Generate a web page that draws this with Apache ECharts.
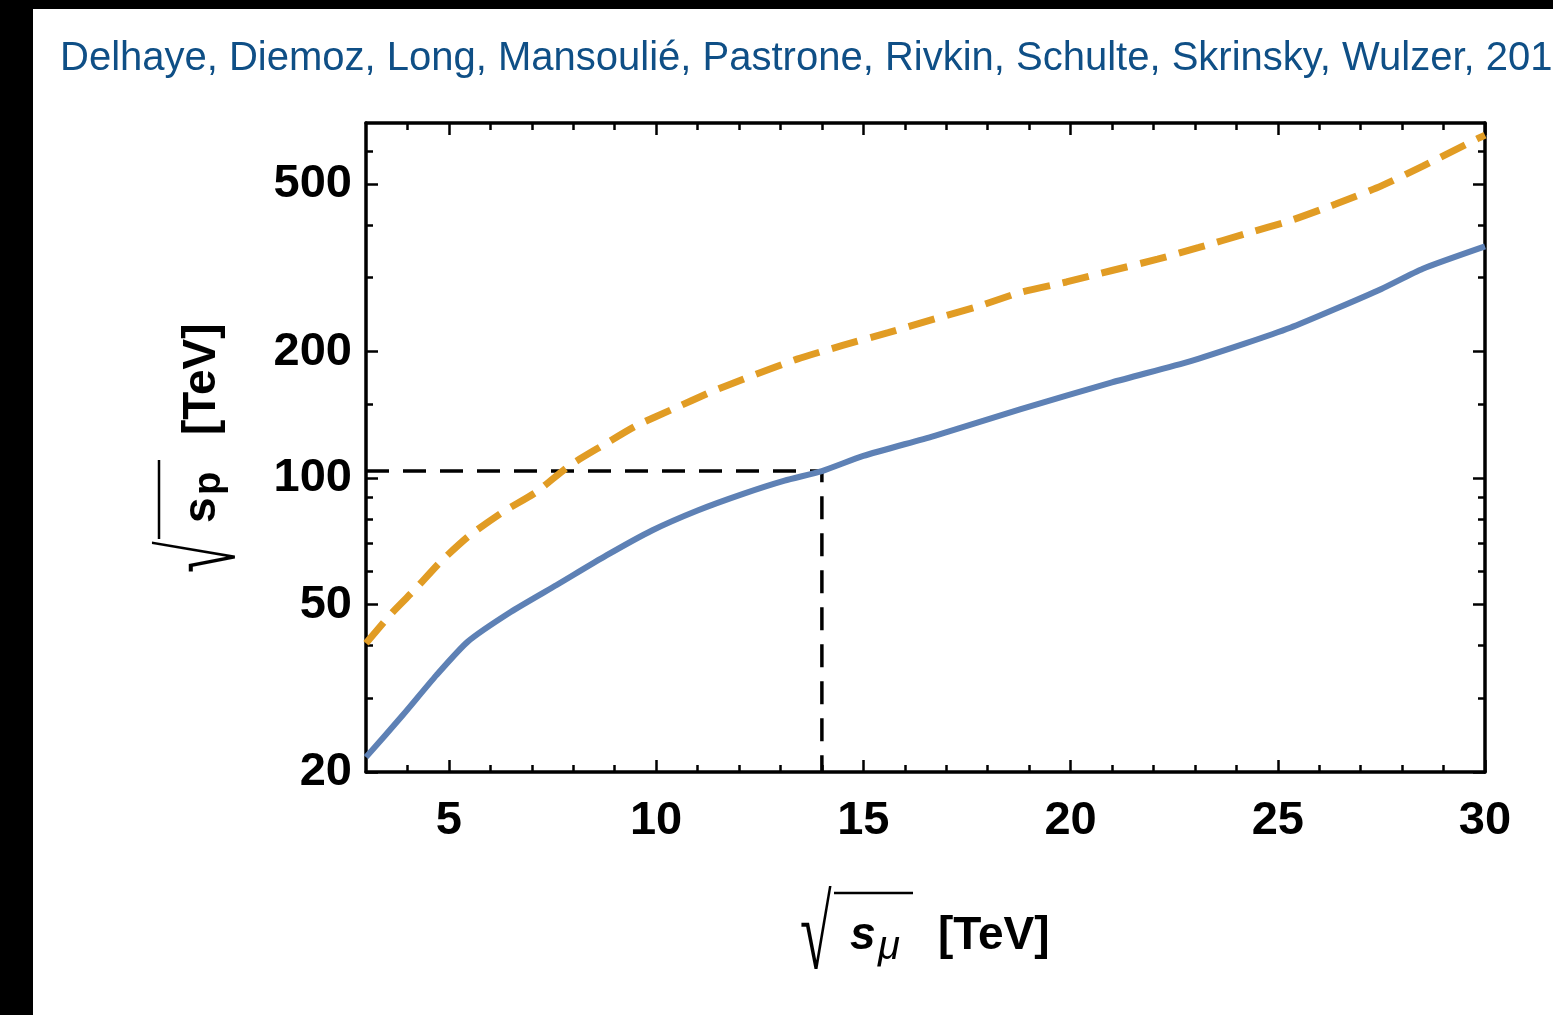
<!DOCTYPE html>
<html>
<head>
<meta charset="utf-8">
<script src="https://cdn.jsdelivr.net/npm/echarts@6/dist/echarts.min.js"></script>
<style>
  html, body { margin: 0; padding: 0; background: #000; width: 1553px; height: 1015px; overflow: hidden; }
  #chart { position: absolute; left: 33px; top: 9px; width: 1520px; height: 1006px; background: #fff; }
</style>
</head>
<body>
<div id="chart"></div>
<script>
// Muon-collider energy (x) against the proton-collider energy with equivalent reach (y).
const creditLine = 'Delhaye, Diemoz, Long, Mansoulié, Pastrone, Rivkin, Schulte, Skrinsky, Wulzer, 2019';

// Solid curve
const solidMuonTeV = [3, 3.9, 4.7, 5.45, 6.5, 7.6, 8.8, 9.9, 11, 12.1, 13.1, 14, 15, 16.7, 18.8, 21, 22.9, 24.2, 25.3, 26.4, 27.5, 28.5, 30];
const solidProtonTeV = [21.7, 27.4, 34.0, 40.8, 48.1, 55.7, 65.5, 75.1, 83.8, 91.8, 98.7, 104, 113, 126, 146, 169, 190, 209, 228, 253, 282, 315, 356];

// Dashed curve
const dashedMuonTeV = [3, 3.65, 4.2, 4.8, 5.5, 6.3, 7.1, 7.9, 8.7, 9.5, 10.4, 11.3, 12.1, 13.4, 14.5, 15.6, 16.7, 17.8, 18.8, 19.9, 21, 22.1, 23.1, 24.2, 25.3, 26.4, 27.5, 28.5, 29.8, 30];
const dashedProtonTeV = [40.5, 48.1, 54.6, 63.3, 73.1, 83.1, 92.6, 107, 119.5, 133, 146, 160, 172, 192, 207, 222, 239, 257, 277, 293, 312, 332, 354, 381, 410, 449, 496, 553, 641, 655];

// Reference guide: a 14 TeV muon collider reaching ~100 TeV
const guideMuonTeV = [3, 14, 14];
const guideProtonTeV = [104, 104, 20];

// Axis ranges and ticks
const xRange = [3, 30];
const yRange = [20, 700];
const xMajorTicks = [5, 10, 15, 20, 25, 30];
const xMinorTicks = [4, 6, 7, 8, 9, 11, 12, 13, 14, 16, 17, 18, 19, 21, 22, 23, 24, 26, 27, 28, 29];
const yMajorTicks = [20, 50, 100, 200, 500];
const yMinorTicks = [30, 40, 60, 70, 80, 90, 150, 300, 400, 600];

const zip = (xs, ys) => xs.map((x, i) => [x, ys[i]]);

const INK = '#000';
const FONT = '"Liberation Sans", Arial, sans-serif';

function tickAxis(base, position, ticks, len, withLine, labels) {
  return Object.assign({}, base, {
    position: position,
    splitLine: { show: false },
    axisLine: { show: withLine, onZero: false, lineStyle: { color: INK, width: 3.5 } },
    axisTick: { show: true, inside: true, length: len, customValues: ticks, lineStyle: { color: INK, width: 2.5 } },
    axisLabel: labels ? {
      show: true, customValues: labels, margin: position === 'bottom' ? 26 : 14,
      fontFamily: FONT, fontWeight: 'bold', fontSize: 47, color: INK
    } : { show: false }
  });
}

const xBase = { type: 'value', min: xRange[0], max: xRange[1] };
const yBase = { type: 'log', logBase: 10, min: yRange[0], max: yRange[1] };

// Axis title: radical over "s" with subscript, followed by the unit.
function axisTitle(x, y, rotation, sItalic, sub, subFont, subY) {
  return {
    type: 'group', x: x, y: y, rotation: rotation,
    children: [
      { type: 'text', x: 0, y: 41, scaleX: 1.15, scaleY: 2.08,
        style: { text: '√', font: '200 50px "DejaVu Sans"', fill: INK, textAlign: 'left', textVerticalAlign: 'bottom' } },
      { type: 'line', shape: { x1: 34, y1: -59, x2: 113, y2: -59 }, style: { stroke: INK, lineWidth: 2.5 } },
      { type: 'text', x: 50, y: 7,
        style: { text: 's', font: (sItalic ? 'italic ' : '') + 'bold 46px ' + FONT, fill: INK, textAlign: 'left', textVerticalAlign: 'bottom' } },
      { type: 'text', x: 78, y: subY,
        style: { text: sub, font: subFont, fill: INK, textAlign: 'left', textVerticalAlign: 'bottom' } },
      { type: 'text', x: 138, y: 7,
        style: { text: '[TeV]', font: 'bold 46px ' + FONT, fill: INK, textAlign: 'left', textVerticalAlign: 'bottom' } }
    ]
  };
}

const chart = echarts.init(document.getElementById('chart'), null, { renderer: 'canvas' });
chart.setOption({
  backgroundColor: '#fff',
  animation: false,
  title: {
    text: creditLine, left: 22, top: 25,
    textStyle: { fontFamily: FONT, fontWeight: 'normal', fontSize: 40, color: '#0f4f86' }
  },
  grid: { left: 333, top: 114, width: 1119, height: 649, containLabel: false },
  xAxis: [
    tickAxis(xBase, 'bottom', xMajorTicks, 12, true, xMajorTicks),
    tickAxis(xBase, 'bottom', xMinorTicks, 7, false, null),
    tickAxis(xBase, 'top', xMajorTicks, 12, true, null),
    tickAxis(xBase, 'top', xMinorTicks, 7, false, null)
  ],
  yAxis: [
    tickAxis(yBase, 'left', yMajorTicks, 12, true, yMajorTicks),
    tickAxis(yBase, 'left', yMinorTicks, 7, false, null),
    tickAxis(yBase, 'right', yMajorTicks, 12, true, null),
    tickAxis(yBase, 'right', yMinorTicks, 7, false, null)
  ],
  series: [
    {
      name: 'guide', type: 'line', xAxisIndex: 0, yAxisIndex: 0, z: 1,
      data: zip(guideMuonTeV, guideProtonTeV), showSymbol: false, silent: true,
      lineStyle: { color: INK, width: 3.5, type: [23, 14] }
    },
    {
      name: 'dashed', type: 'line', xAxisIndex: 0, yAxisIndex: 0, z: 3,
      data: zip(dashedMuonTeV, dashedProtonTeV), showSymbol: false,
      smooth: 0.2,
      lineStyle: { color: '#E19C24', width: 7, type: [27, 13], cap: 'butt' }
    },
    {
      name: 'solid', type: 'line', xAxisIndex: 0, yAxisIndex: 0, z: 3,
      data: zip(solidMuonTeV, solidProtonTeV), showSymbol: false,
      smooth: 0.2,
      lineStyle: { color: '#5E81B5', width: 6, join: 'round' }
    }
  ],
  graphic: [
    axisTitle(767, 943, 0, true, 'μ', 'italic 40px ' + FONT, 16),
    axisTitle(185, 564, Math.PI / 2, false, 'p', 'bold 38px ' + FONT, 11)
  ]
});
</script>
</body>
</html>
